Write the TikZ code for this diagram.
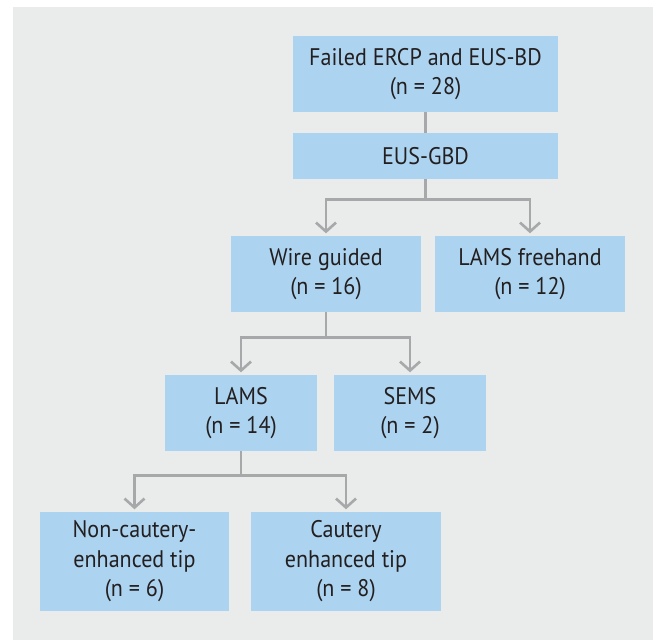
\documentclass[tikz,border=0pt]{standalone}
\usepackage{fontspec}
\setmainfont[FakeStretch=0.92]{PT Sans}
\usetikzlibrary{arrows.meta}
\definecolor{panel}{HTML}{EAECEB}
\definecolor{boxblue}{HTML}{ACD3EF}
\definecolor{linegray}{HTML}{A7A8AA}
\definecolor{inkdark}{HTML}{231F20}

\begin{document}
\begin{tikzpicture}[
  x=1pt, y=-1pt,
  every node/.style={text=inkdark, font=\fontsize{24}{29.5}\selectfont},
  stagebox/.style={rectangle, fill=boxblue, inner sep=0pt, align=center},
  link/.style={linegray, line width=2.6pt, shorten >=2.5pt,
    -{Straight Barb[length=9pt, width=20pt, line width=2.6pt]}},
  trunk/.style={linegray, line width=2.6pt},
]

% Background
\useasboundingbox (0,0) rectangle (653,640);
\fill[panel] (13,7) rectangle (653,640);

% Top of the tree
\node[stagebox, minimum width=265pt, minimum height=76pt] (failed) at (425.5,74) {Failed ERCP and EUS-BD\\(n = 28)};
\node[stagebox, minimum width=265pt, minimum height=46pt] (gbd) at (425.5,156) {EUS-GBD};

% Second level
\node[stagebox, minimum width=190pt, minimum height=76pt] (wire) at (326,274) {Wire guided\\(n = 16)};
\node[stagebox, minimum width=190pt, minimum height=76pt] (free) at (530,274) {LAMS freehand\\(n = 12)};

% Third level
\node[stagebox, minimum width=152pt, minimum height=76pt] (lams) at (241,413) {LAMS\\(n = 14)};
\node[stagebox, minimum width=152pt, minimum height=76pt] (sems) at (410,413) {SEMS\\(n = 2)};

% Fourth level
\node[stagebox, minimum width=189pt, minimum height=99pt] (noncaut) at (134.5,561.5) {Non-cautery-\\enhanced tip\\(n = 6)};
\node[stagebox, minimum width=190pt, minimum height=99pt] (caut) at (346,561.5) {Cautery\\enhanced tip\\(n = 8)};

% Connections
\draw[trunk] (failed) -- (gbd);
\draw[link] (gbd.south) -- ++(0,20) -| (wire.north);
\draw[link] (gbd.south) -- ++(0,20) -| (free.north);
\draw[link] (wire.south) -- ++(0,25) -| (lams.north);
\draw[link] (wire.south) -- ++(0,25) -| (sems.north);
\draw[link] (lams.south) -- ++(0,24) -| (noncaut.north);
\draw[link] (lams.south) -- ++(0,24) -| (caut.north);

\end{tikzpicture}
\end{document}
